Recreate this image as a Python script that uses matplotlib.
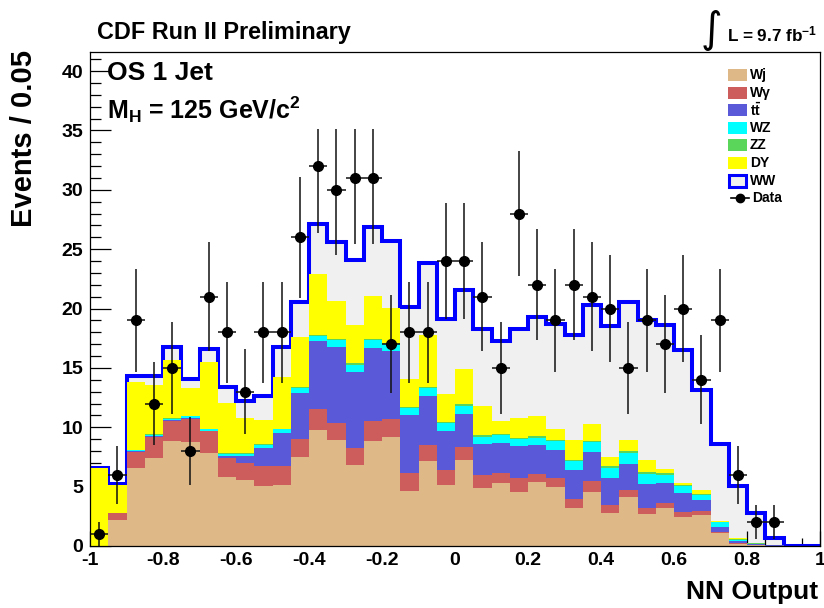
import numpy as np
import matplotlib
matplotlib.use('Agg')
import matplotlib.pyplot as plt
from matplotlib.patches import Rectangle
from matplotlib.lines import Line2D
from matplotlib.ticker import MultipleLocator, FuncFormatter

plt.rcParams['font.family'] = ['Liberation Sans', 'DejaVu Sans']
plt.rcParams['mathtext.fontset'] = 'custom'
plt.rcParams['mathtext.rm'] = 'Liberation Sans'
plt.rcParams['mathtext.bf'] = 'Liberation Sans:bold'
plt.rcParams['mathtext.it'] = 'Liberation Sans:italic'

# ---------------- data (40 bins of 0.05 in NN output, -1..1) ----------------
bin_lo, bin_hi, n_bins = -1.0, 1.0, 40

wj = [0, 2.18, 6.55, 7.37, 8.85, 8.77, 7.79, 5.83, 5.55, 5.05,
      5.13, 7.51, 9.78, 8.96, 6.81, 8.85, 9.19, 4.65, 7.17, 5.13,
      7.23, 4.85, 5.32, 4.57, 5.35, 4.99, 3.17, 4.57, 2.80, 4.09,
      2.67, 3.23, 2.41, 2.63, 1.07, 0.17, 0.05, 0.02, 0, 0]
wgamma = [0, 0.60, 1.40, 1.83, 1.70, 1.93, 1.86, 1.57, 1.43, 1.65,
          1.64, 1.46, 1.75, 1.41, 1.48, 1.68, 1.54, 1.46, 1.32, 1.26,
          1.09, 1.12, 0.79, 1.17, 0.70, 0.75, 0.83, 0.91, 0.69, 0.64,
          0.57, 0.36, 0.48, 0.28, 0.13, 0.08, 0.05, 0.02, 0, 0]
ttbar = [0, 0.02, 0.05, 0.05, 0.05, 0.10, 0.05, 0.22, 0.62, 1.57,
         2.73, 3.92, 5.73, 6.43, 6.33, 6.16, 5.68, 4.90, 4.11, 3.30,
         2.80, 2.66, 2.57, 2.66, 2.44, 2.38, 2.39, 2.45, 2.27, 2.19,
         2.00, 1.74, 1.54, 0.96, 0.43, 0.15, 0.05, 0.02, 0, 0]
wz = [0, 0.02, 0.08, 0.12, 0.12, 0.12, 0.15, 0.16, 0.18, 0.24,
      0.33, 0.42, 0.45, 0.53, 0.66, 0.64, 0.58, 0.60, 0.67, 0.64,
      0.70, 0.59, 0.67, 0.61, 0.63, 0.71, 0.75, 0.81, 0.82, 0.90,
      0.86, 0.66, 0.59, 0.44, 0.35, 0.12, 0.06, 0.02, 0, 0]
zz = [0, 0, 0.02, 0.03, 0.03, 0.03, 0.04, 0.04, 0.04, 0.05,
      0.06, 0.08, 0.10, 0.10, 0.12, 0.12, 0.10, 0.10, 0.12, 0.12,
      0.13, 0.11, 0.12, 0.12, 0.12, 0.13, 0.14, 0.14, 0.14, 0.15,
      0.15, 0.12, 0.11, 0.09, 0.07, 0.03, 0.01, 0, 0, 0]
dy = [6.60, 2.28, 5.75, 4.15, 4.95, 2.35, 5.60, 4.20, 3.00, 2.09,
      4.34, 4.21, 5.10, 3.24, 3.25, 3.64, 2.97, 2.38, 4.34, 2.32,
      2.95, 2.43, 1.06, 1.68, 1.68, 0.93, 1.63, 1.36, 0.76, 0.94,
      1.03, 0.34, 0.20, 0.31, 0.08, 0.10, 0.06, 0.02, 0, 0]
ww = [0, 0.10, 0.45, 0.75, 1.10, 0.80, 1.11, 1.40, 1.42, 2.00,
      2.52, 2.94, 4.21, 4.90, 5.44, 5.74, 5.60, 6.02, 6.08, 6.36,
      6.70, 6.48, 6.70, 7.48, 8.35, 8.82, 8.90, 10.09, 11.02, 11.66,
      11.79, 12.13, 11.14, 8.46, 6.50, 4.40, 2.47, 0.55, 0, 0]
data = [1, 6, 19, 12, 15, 8, 21, 18, 13, 18,
        18, 26, 32, 30, 31, 31, 17, 18, 18, 24,
        24, 21, 15, 28, 22, 19, 22, 21, 20, 15,
        19, 17, 20, 14, 19, 6, 2, 2, 0, 0]
err_cap = 35.1  # upper ends of the tallest error bars stop here in the original

labels = ['Wj', 'W\u03b3', r'$\mathbf{t\bar{t}}$', 'WZ', 'ZZ', 'DY', 'WW']
colors = ['#deb887', '#cd5c5c', '#5a5ad8', '#00ffff', '#5ad75a', '#ffff00', '#f0f0f0']
ww_line = '#0000ff'

# ---------------- figure ----------------
W, H = 824, 608
fig = plt.figure(figsize=(W / 100, H / 100), dpi=100)
fig.patch.set_facecolor('white')

def fx(px):
    return px / W

def fy(py):
    return 1 - py / H

ax = fig.add_axes([fx(90), fy(546), (820 - 90) / W, (546 - 52) / H])

edges = np.linspace(bin_lo, bin_hi, n_bins + 1)
centers = 0.5 * (edges[:-1] + edges[1:])
stack = np.array([wj, wgamma, ttbar, wz, zz, dy, ww], float)
cum = np.cumsum(stack, axis=0)

# ROOT-like drawing: top of stack first, then each lower cumulative level over it
ax.stairs(cum[6], edges, fill=True, facecolor=colors[6], edgecolor='none', zorder=1)
ax.stairs(cum[6], edges, fill=False, baseline=0, color=ww_line, linewidth=2.9, zorder=2)
for k in range(5, -1, -1):
    ax.stairs(cum[k], edges, fill=True, facecolor=colors[k], edgecolor='none',
              linewidth=0, zorder=3 + (5 - k))

d = np.array(data, float)
m = d > 0
err = np.sqrt(d)
up = np.minimum(d + err, err_cap) - d
ax.errorbar(centers[m], d[m], yerr=[err[m], up[m]], xerr=0.025, fmt='o',
            ms=7, mfc='black', mec='black', ecolor='#111111', elinewidth=1.1,
            capsize=0, zorder=20)

ax.set_xlim(-1, 1)
ax.set_ylim(0, 41.6)

ax.xaxis.set_major_locator(MultipleLocator(0.2))
ax.xaxis.set_minor_locator(MultipleLocator(0.05))
ax.yaxis.set_major_locator(MultipleLocator(5))
ax.yaxis.set_minor_locator(MultipleLocator(1))
ax.xaxis.set_major_formatter(FuncFormatter(lambda v, p: f"{v:g}" if abs(v) > 1e-9 else "0"))
ax.yaxis.set_major_formatter(FuncFormatter(lambda v, p: f"{v:g}"))
ax.tick_params(axis='both', which='both', direction='in', top=False, right=False,
               width=0.9, colors='black')
ax.tick_params(axis='y', which='major', length=15, pad=5, labelsize=14)
ax.tick_params(axis='y', which='minor', length=8)
ax.tick_params(axis='x', which='major', length=11, pad=4, labelsize=14)
ax.tick_params(axis='x', which='minor', length=5.5)
for lab in ax.get_xticklabels() + ax.get_yticklabels():
    lab.set_fontweight('bold')
for sp in ax.spines.values():
    sp.set_linewidth(0.9)
    sp.set_zorder(30)

# ---------------- texts ----------------
fig.text(fx(24), fy(50), 'Events / 0.05', rotation=90, ha='center', va='top',
         fontsize=21, fontweight='bold')
fig.text(fx(818), fy(592), 'NN Output', ha='right', va='center',
         fontsize=19, fontweight='bold')
fig.text(fx(97), fy(33), 'CDF Run II Preliminary', ha='left', va='center',
         fontsize=16.8, fontweight='bold')
fig.text(fx(711), fy(30), '\u222b', ha='center', va='center', fontsize=30,
         family=['DejaVu Sans'])
fig.text(fx(727), fy(34), r'L = 9.7 fb$^{\mathbf{-1}}$', ha='left', va='center',
         fontsize=12.3, fontweight='bold')
fig.text(fx(107), fy(73), 'OS 1 Jet', ha='left', va='center',
         fontsize=19, fontweight='bold')
fig.text(fx(107), fy(110), r'M$_{\mathbf{H}}$ = 125 GeV/c$^{\mathbf{2}}$', ha='left',
         va='center', fontsize=18, fontweight='bold')

# ---------------- legend ----------------
y0, dyl = 75, 17.6
for i in range(7):
    yc = y0 + dyl * i
    if i < 6:
        fig.add_artist(Rectangle((fx(728), fy(yc + 6)), 19 / W, 12 / H,
                                 transform=fig.transFigure, facecolor=colors[i],
                                 edgecolor='none'))
    else:
        fig.add_artist(Rectangle((fx(729), fy(yc + 6)), 17 / W, 12 / H,
                                 transform=fig.transFigure, facecolor=colors[6],
                                 edgecolor=ww_line, linewidth=2.2))
    fig.text(fx(750), fy(yc), labels[i], ha='left', va='center',
             fontsize=10, fontweight='bold')
yc = y0 + dyl * 7
fig.add_artist(Line2D([fx(731), fx(749)], [fy(yc), fy(yc)], transform=fig.transFigure,
                      color='black', linewidth=1.2))
fig.add_artist(Line2D([fx(740)], [fy(yc)], transform=fig.transFigure, marker='o',
                      ms=6, color='black', linestyle='none'))
fig.text(fx(752), fy(yc), 'Data', ha='left', va='center', fontsize=10, fontweight='bold')

fig.savefig('out.png', dpi=100, facecolor='white')
